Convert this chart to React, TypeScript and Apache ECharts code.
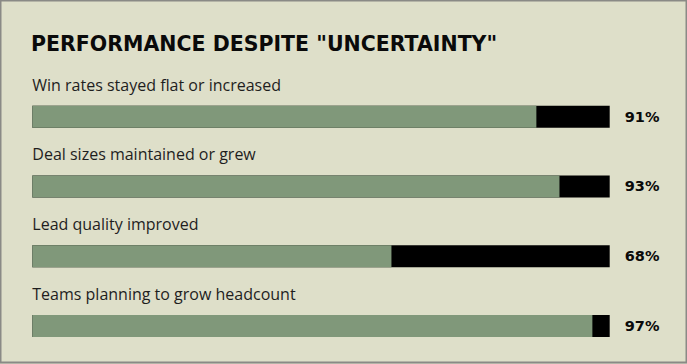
import React, { useEffect, useRef } from "react";
import * as echarts from "echarts";

const categories = [
  "Win rates stayed flat or increased",
  "Deal sizes maintained or grew",
  "Lead quality improved",
  "Teams planning to grow headcount",
];
const barValues = [87.3, 91.3, 62.2, 97.0];
const trackValues = [100, 100, 100, 100];
const valueLabels = ["91%", "93%", "68%", "97%"];
const title = 'PERFORMANCE DESPITE "UNCERTAINTY"';

export default function App() {
  const ref = useRef<HTMLDivElement>(null);
  useEffect(() => {
    const chart = echarts.init(ref.current!, null, { renderer: "svg" });
    chart.setOption({
      animation: false,
      backgroundColor: "#DEDFC9",
      title: {
        text: title,
        left: 31,
        top: 33,
        padding: 0,
        textStyle: {
          fontFamily: "DejaVu Sans",
          fontWeight: "bold",
          fontSize: 20.5,
          color: "#0a0a0a",
        },
      },
      graphic: [
        {
          type: "rect",
          shape: { x: 0.5, y: 0.5, width: 686, height: 362 },
          style: { fill: "none", stroke: "#8a8a86", lineWidth: 2 },
          silent: true,
        },
      ],
      grid: { left: 32.3, right: 77.3, top: 81.8, bottom: 3.1, containLabel: false },
      xAxis: { type: "value", min: 0, max: 100, show: false },
      yAxis: {
        type: "category",
        data: categories,
        inverse: true,
        show: false,
      },
      series: [
        {
          type: "bar",
          data: trackValues,
          barWidth: 22,
          barGap: "-100%",
          itemStyle: { color: "#000000" },
          label: {
            show: true,
            position: "right",
            distance: 15,
            formatter: (p: any) => valueLabels[p.dataIndex],
            fontFamily: "DejaVu Sans",
            fontWeight: "bold",
            fontSize: 14.5,
            color: "#0a0a0a",
          },
        },
        {
          type: "bar",
          data: barValues,
          barWidth: 22,
          barGap: "-100%",
          itemStyle: { color: "#80987A" },
          label: {
            show: true,
            position: [0, -21],
            verticalAlign: "middle",
            align: "left",
            formatter: (p: any) => categories[p.dataIndex],
            fontFamily: "Open Sans",
            fontSize: 16,
            color: "#1e1e1e",
          },
        },
      ],
    });
    return () => chart.dispose();
  }, []);
  return (
    <div
      ref={ref}
      style={{ position: "absolute", left: 0, top: 0, width: 687, height: 364 }}
    />
  );
}
